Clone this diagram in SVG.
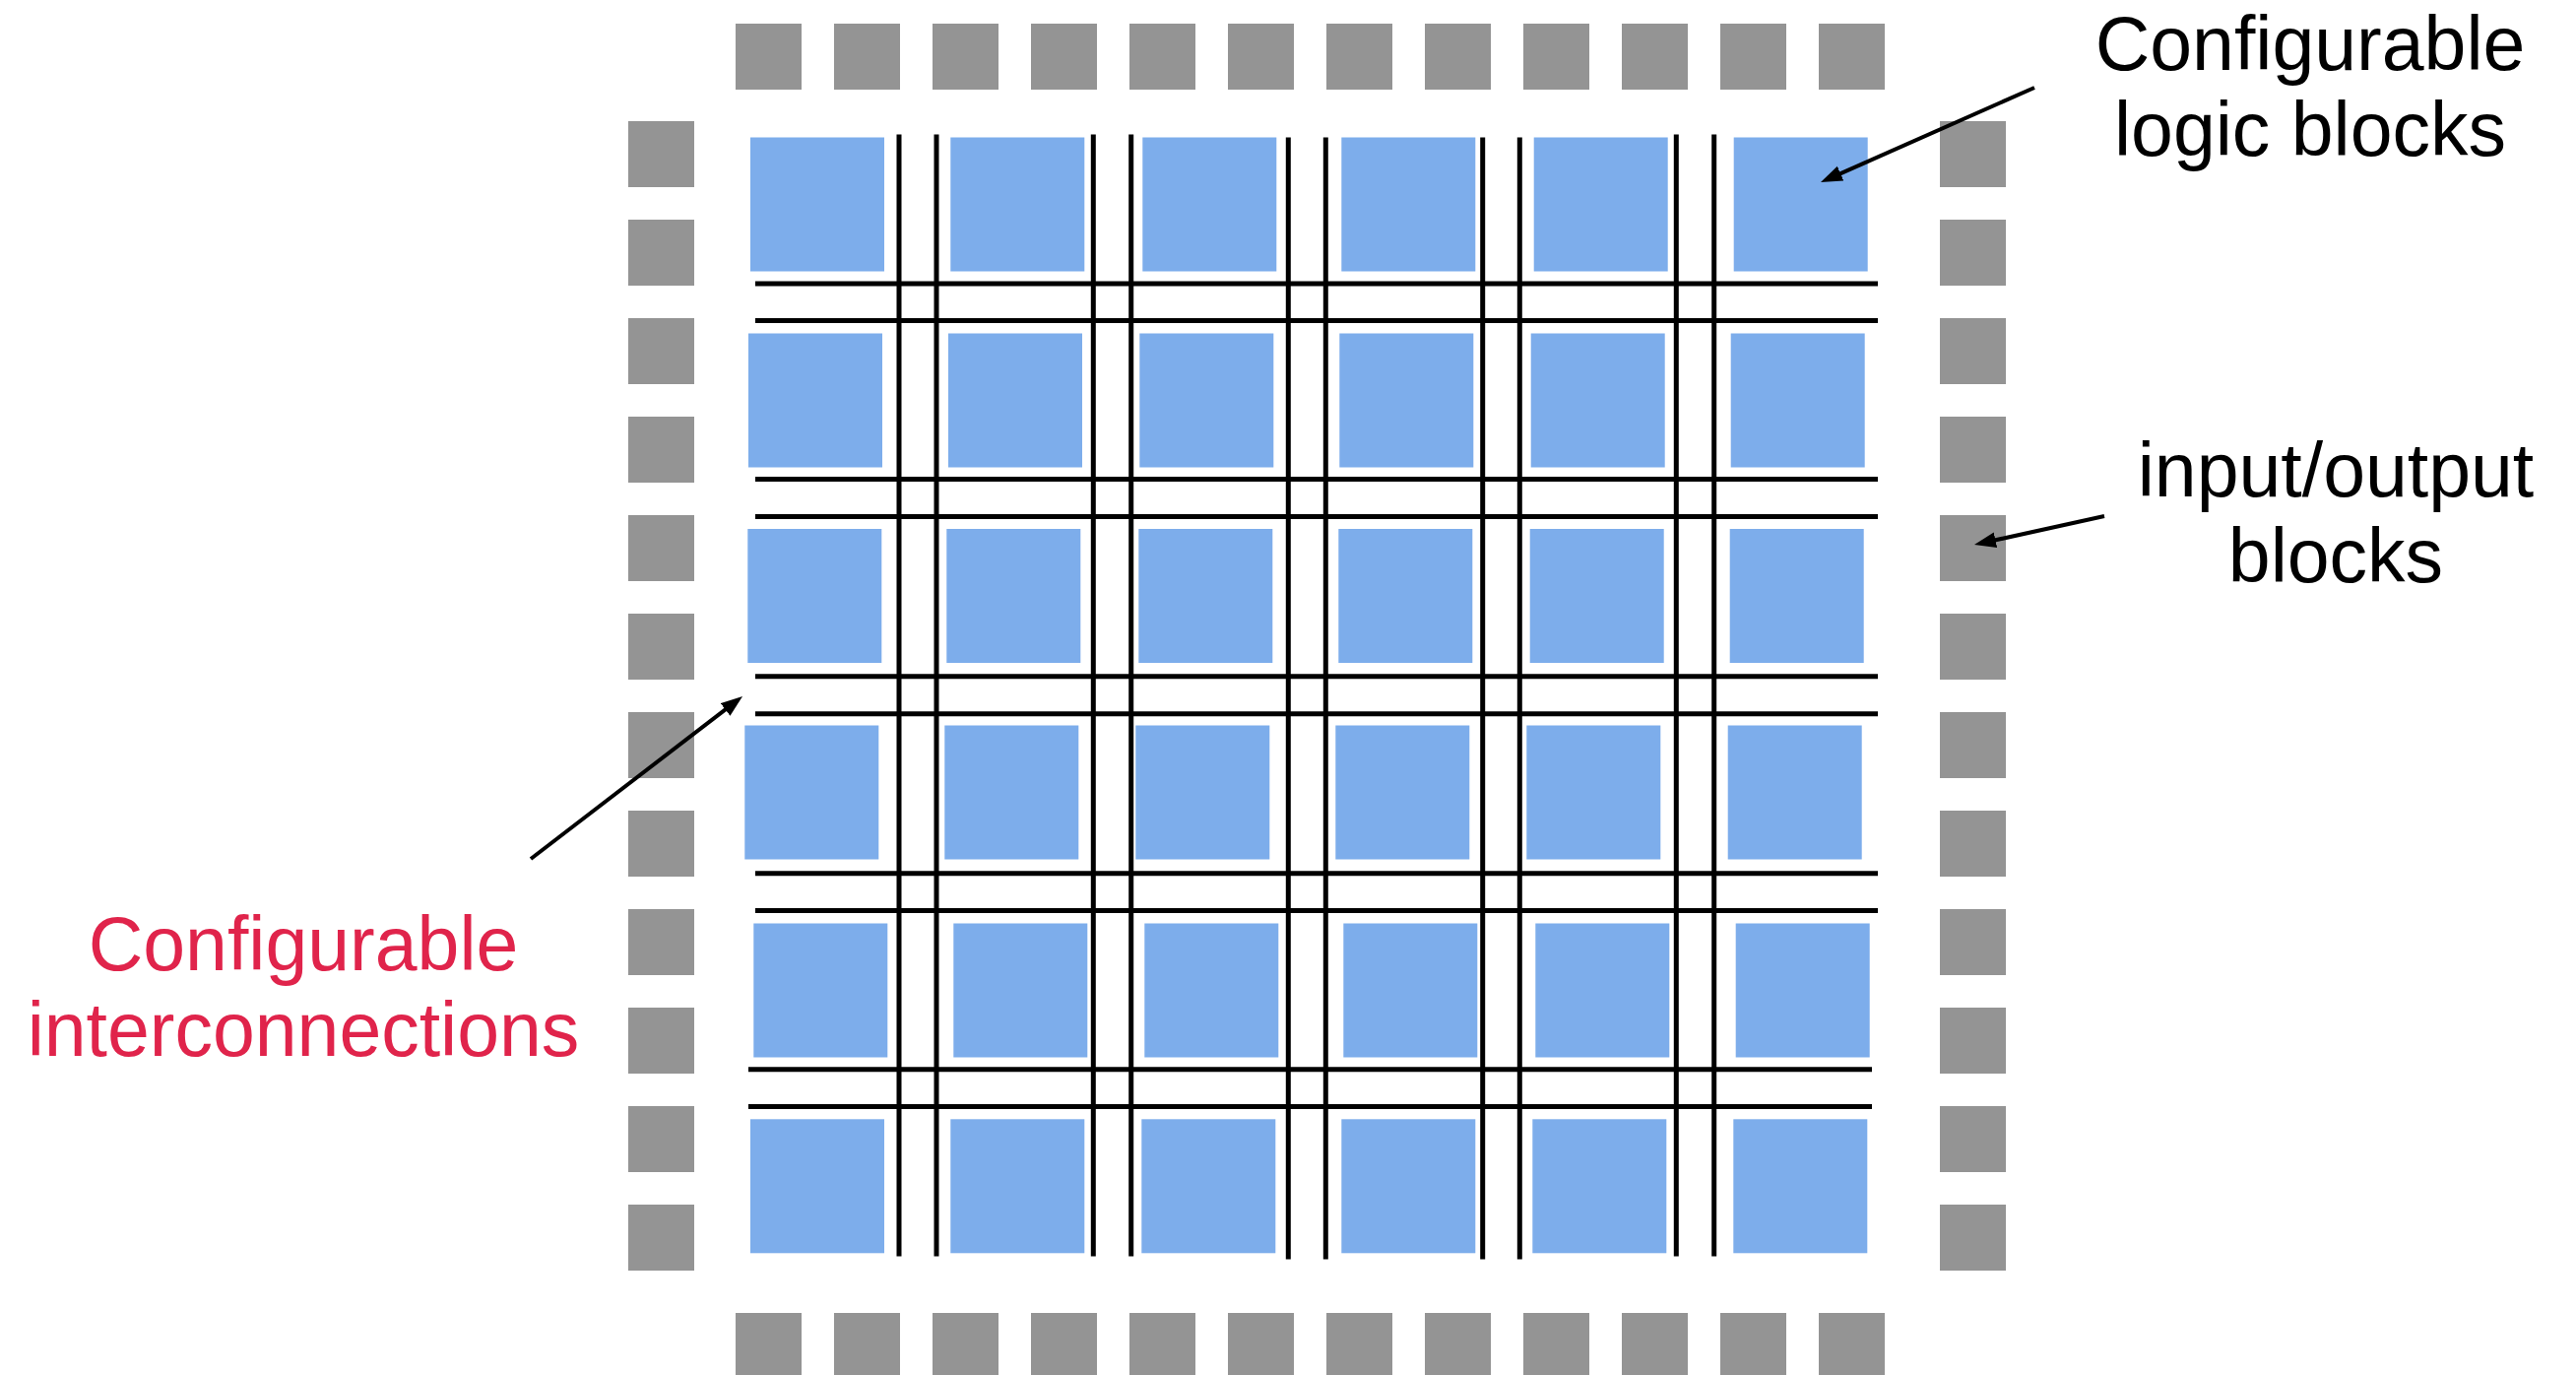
<svg xmlns="http://www.w3.org/2000/svg" width="2616" height="1396" viewBox="0 0 2616 1396">
<style>
.pad{fill:#949494}
.clb{fill:#7DADEB}
.wire{stroke:#000;stroke-width:5;fill:none}
.arrow{stroke:#000;stroke-width:4;fill:none}
.lbl{font-family:"Liberation Sans",Arial,sans-serif;font-size:77px;text-anchor:middle;fill:#000}
.red{fill:#E0244B}
</style>
<defs>
<marker id="ah" markerUnits="userSpaceOnUse" markerWidth="24" markerHeight="18" refX="14" refY="8" orient="auto">
<path d="M0,0 L22,8 L0,16 Z" fill="#000"/>
</marker>
</defs>
<rect width="2616" height="1396" fill="#fff"/>

<g id="io-top">
<g id="io-t1"><rect class="pad" x="747" y="24" width="67" height="67"/></g>
<g id="io-t2"><rect class="pad" x="847" y="24" width="67" height="67"/></g>
<g id="io-t3"><rect class="pad" x="947" y="24" width="67" height="67"/></g>
<g id="io-t4"><rect class="pad" x="1047" y="24" width="67" height="67"/></g>
<g id="io-t5"><rect class="pad" x="1147" y="24" width="67" height="67"/></g>
<g id="io-t6"><rect class="pad" x="1247" y="24" width="67" height="67"/></g>
<g id="io-t7"><rect class="pad" x="1347" y="24" width="67" height="67"/></g>
<g id="io-t8"><rect class="pad" x="1447" y="24" width="67" height="67"/></g>
<g id="io-t9"><rect class="pad" x="1547" y="24" width="67" height="67"/></g>
<g id="io-t10"><rect class="pad" x="1647" y="24" width="67" height="67"/></g>
<g id="io-t11"><rect class="pad" x="1747" y="24" width="67" height="67"/></g>
<g id="io-t12"><rect class="pad" x="1847" y="24" width="67" height="67"/></g>
</g>
<g id="io-bottom">
<g id="io-b1"><rect class="pad" x="747" y="1333" width="67" height="67"/></g>
<g id="io-b2"><rect class="pad" x="847" y="1333" width="67" height="67"/></g>
<g id="io-b3"><rect class="pad" x="947" y="1333" width="67" height="67"/></g>
<g id="io-b4"><rect class="pad" x="1047" y="1333" width="67" height="67"/></g>
<g id="io-b5"><rect class="pad" x="1147" y="1333" width="67" height="67"/></g>
<g id="io-b6"><rect class="pad" x="1247" y="1333" width="67" height="67"/></g>
<g id="io-b7"><rect class="pad" x="1347" y="1333" width="67" height="67"/></g>
<g id="io-b8"><rect class="pad" x="1447" y="1333" width="67" height="67"/></g>
<g id="io-b9"><rect class="pad" x="1547" y="1333" width="67" height="67"/></g>
<g id="io-b10"><rect class="pad" x="1647" y="1333" width="67" height="67"/></g>
<g id="io-b11"><rect class="pad" x="1747" y="1333" width="67" height="67"/></g>
<g id="io-b12"><rect class="pad" x="1847" y="1333" width="67" height="67"/></g>
</g>
<g id="io-left">
<g id="io-l1"><rect class="pad" x="638" y="123" width="67" height="67"/></g>
<g id="io-l2"><rect class="pad" x="638" y="223" width="67" height="67"/></g>
<g id="io-l3"><rect class="pad" x="638" y="323" width="67" height="67"/></g>
<g id="io-l4"><rect class="pad" x="638" y="423" width="67" height="67"/></g>
<g id="io-l5"><rect class="pad" x="638" y="523" width="67" height="67"/></g>
<g id="io-l6"><rect class="pad" x="638" y="623" width="67" height="67"/></g>
<g id="io-l7"><rect class="pad" x="638" y="723" width="67" height="67"/></g>
<g id="io-l8"><rect class="pad" x="638" y="823" width="67" height="67"/></g>
<g id="io-l9"><rect class="pad" x="638" y="923" width="67" height="67"/></g>
<g id="io-l10"><rect class="pad" x="638" y="1023" width="67" height="67"/></g>
<g id="io-l11"><rect class="pad" x="638" y="1123" width="67" height="67"/></g>
<g id="io-l12"><rect class="pad" x="638" y="1223" width="67" height="67"/></g>
</g>
<g id="io-right">
<g id="io-r1"><rect class="pad" x="1970" y="123" width="67" height="67"/></g>
<g id="io-r2"><rect class="pad" x="1970" y="223" width="67" height="67"/></g>
<g id="io-r3"><rect class="pad" x="1970" y="323" width="67" height="67"/></g>
<g id="io-r4"><rect class="pad" x="1970" y="423" width="67" height="67"/></g>
<g id="io-r5"><rect class="pad" x="1970" y="523" width="67" height="67"/></g>
<g id="io-r6"><rect class="pad" x="1970" y="623" width="67" height="67"/></g>
<g id="io-r7"><rect class="pad" x="1970" y="723" width="67" height="67"/></g>
<g id="io-r8"><rect class="pad" x="1970" y="823" width="67" height="67"/></g>
<g id="io-r9"><rect class="pad" x="1970" y="923" width="67" height="67"/></g>
<g id="io-r10"><rect class="pad" x="1970" y="1023" width="67" height="67"/></g>
<g id="io-r11"><rect class="pad" x="1970" y="1123" width="67" height="67"/></g>
<g id="io-r12"><rect class="pad" x="1970" y="1223" width="67" height="67"/></g>
</g>

<g id="clbs">
<g id="clb-1-1"><rect class="clb" x="762" y="139.5" width="136" height="136"/></g>
<g id="clb-1-2"><rect class="clb" x="965.3" y="139.5" width="136" height="136"/></g>
<g id="clb-1-3"><rect class="clb" x="1160.3" y="139.5" width="136" height="136"/></g>
<g id="clb-1-4"><rect class="clb" x="1362.3" y="139.5" width="136" height="136"/></g>
<g id="clb-1-5"><rect class="clb" x="1557.7" y="139.5" width="136" height="136"/></g>
<g id="clb-1-6"><rect class="clb" x="1760.7" y="139.5" width="136" height="136"/></g>
<g id="clb-2-1"><rect class="clb" x="760" y="338.5" width="136" height="136"/></g>
<g id="clb-2-2"><rect class="clb" x="963" y="338.5" width="136" height="136"/></g>
<g id="clb-2-3"><rect class="clb" x="1157.3" y="338.5" width="136" height="136"/></g>
<g id="clb-2-4"><rect class="clb" x="1360.3" y="338.5" width="136" height="136"/></g>
<g id="clb-2-5"><rect class="clb" x="1554.7" y="338.5" width="136" height="136"/></g>
<g id="clb-2-6"><rect class="clb" x="1757.7" y="338.5" width="136" height="136"/></g>
<g id="clb-3-1"><rect class="clb" x="759.3" y="537" width="136" height="136"/></g>
<g id="clb-3-2"><rect class="clb" x="961.3" y="537" width="136" height="136"/></g>
<g id="clb-3-3"><rect class="clb" x="1156.3" y="537" width="136" height="136"/></g>
<g id="clb-3-4"><rect class="clb" x="1359.3" y="537" width="136" height="136"/></g>
<g id="clb-3-5"><rect class="clb" x="1553.7" y="537" width="136" height="136"/></g>
<g id="clb-3-6"><rect class="clb" x="1756.7" y="537" width="136" height="136"/></g>
<g id="clb-4-1"><rect class="clb" x="756.3" y="736.5" width="136" height="136"/></g>
<g id="clb-4-2"><rect class="clb" x="959.3" y="736.5" width="136" height="136"/></g>
<g id="clb-4-3"><rect class="clb" x="1153.3" y="736.5" width="136" height="136"/></g>
<g id="clb-4-4"><rect class="clb" x="1356.3" y="736.5" width="136" height="136"/></g>
<g id="clb-4-5"><rect class="clb" x="1550.3" y="736.5" width="136" height="136"/></g>
<g id="clb-4-6"><rect class="clb" x="1754.7" y="736.5" width="136" height="136"/></g>
<g id="clb-5-1"><rect class="clb" x="765.3" y="937.5" width="136" height="136"/></g>
<g id="clb-5-2"><rect class="clb" x="968.3" y="937.5" width="136" height="136"/></g>
<g id="clb-5-3"><rect class="clb" x="1162.3" y="937.5" width="136" height="136"/></g>
<g id="clb-5-4"><rect class="clb" x="1364.3" y="937.5" width="136" height="136"/></g>
<g id="clb-5-5"><rect class="clb" x="1559.3" y="937.5" width="136" height="136"/></g>
<g id="clb-5-6"><rect class="clb" x="1762.7" y="937.5" width="136" height="136"/></g>
<g id="clb-6-1"><rect class="clb" x="762" y="1136.3" width="136" height="136"/></g>
<g id="clb-6-2"><rect class="clb" x="965.3" y="1136.3" width="136" height="136"/></g>
<g id="clb-6-3"><rect class="clb" x="1159.3" y="1136.3" width="136" height="136"/></g>
<g id="clb-6-4"><rect class="clb" x="1362.3" y="1136.3" width="136" height="136"/></g>
<g id="clb-6-5"><rect class="clb" x="1556.3" y="1136.3" width="136" height="136"/></g>
<g id="clb-6-6"><rect class="clb" x="1760.3" y="1136.3" width="136" height="136"/></g>
</g>

<g id="interconnect">
<line class="wire" x1="767" y1="288" x2="1907" y2="288"/>
<line class="wire" x1="767" y1="325.5" x2="1907" y2="325.5"/>
<line class="wire" x1="767" y1="486.6" x2="1907" y2="486.6"/>
<line class="wire" x1="767" y1="524.5" x2="1907" y2="524.5"/>
<line class="wire" x1="767" y1="686.8" x2="1907" y2="686.8"/>
<line class="wire" x1="767" y1="724.7" x2="1907" y2="724.7"/>
<line class="wire" x1="767" y1="886.8" x2="1907" y2="886.8"/>
<line class="wire" x1="767" y1="924.6" x2="1907" y2="924.6"/>
<line class="wire" x1="760" y1="1085.8" x2="1901" y2="1085.8"/>
<line class="wire" x1="760" y1="1123.6" x2="1901" y2="1123.6"/>
<line class="wire" x1="913" y1="136.5" x2="913" y2="1275.5"/>
<line class="wire" x1="951" y1="136.5" x2="951" y2="1275.5"/>
<line class="wire" x1="1110.3" y1="136.5" x2="1110.3" y2="1275.5"/>
<line class="wire" x1="1148.7" y1="136.5" x2="1148.7" y2="1275.5"/>
<line class="wire" x1="1308.3" y1="139.5" x2="1308.3" y2="1278.6"/>
<line class="wire" x1="1346.3" y1="139.5" x2="1346.3" y2="1278.6"/>
<line class="wire" x1="1505.7" y1="139.5" x2="1505.7" y2="1278.6"/>
<line class="wire" x1="1543.3" y1="139.5" x2="1543.3" y2="1278.6"/>
<line class="wire" x1="1702.3" y1="136.5" x2="1702.3" y2="1275.5"/>
<line class="wire" x1="1740.7" y1="136.5" x2="1740.7" y2="1275.5"/>
</g>

<g id="connectors">
<line class="arrow" x1="2066" y1="89" x2="1856.3" y2="181.8" marker-end="url(#ah)"/>
<line class="arrow" x1="2137" y1="524" x2="2012.8" y2="551.3" marker-end="url(#ah)"/>
<line class="arrow" x1="539" y1="872" x2="747.7" y2="711.9" marker-end="url(#ah)"/>
</g>

<g id="label-clb">
<text class="lbl" x="2346" y="71"><tspan x="2346" y="71">Configurable</tspan><tspan x="2346" y="158">logic blocks</tspan></text>
</g>
<g id="label-io">
<text class="lbl" x="2372" y="504"><tspan x="2372" y="504">input/output</tspan><tspan x="2372" y="591">blocks</tspan></text>
</g>
<g id="label-ic">
<text class="lbl red" x="308" y="985"><tspan x="308" y="985">Configurable</tspan><tspan x="308" y="1072">interconnections</tspan></text>
</g>
</svg>
